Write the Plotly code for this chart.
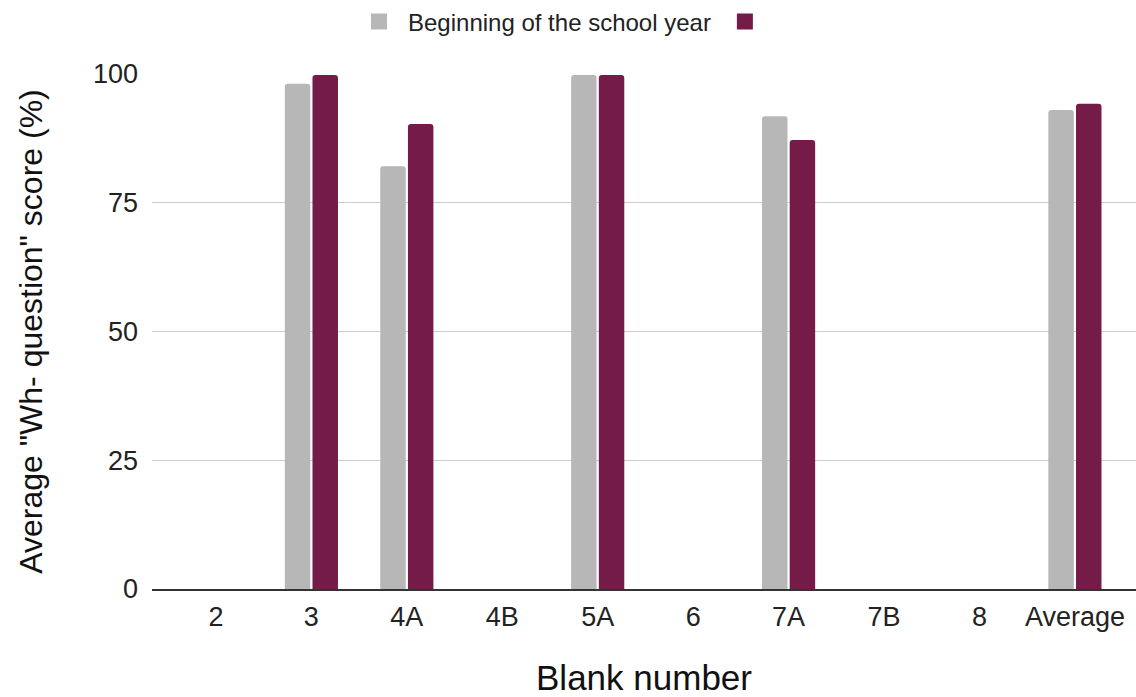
import plotly.graph_objects as go

categories = ["2", "3", "4A", "4B", "5A", "6", "7A", "7B", "8", "Average"]
beginning = [None, 98.1, 82.1, None, 99.8, None, 91.8, None, None, 93.0]
end = [None, 99.8, 90.3, None, 99.8, None, 87.2, None, None, 94.2]
y_ticks = [0, 25, 50, 75, 100]
series_names = ["Beginning of the school year", " "]
colors = ["#b7b7b7", "#741b47"]

fig = go.Figure()
for vals, name, col in zip([beginning, end], series_names, colors):
    fig.add_trace(go.Bar(x=categories, y=vals, name=name, showlegend=False,
                         marker=dict(color=col, cornerradius=3, line=dict(width=0))))
# legend proxies with larger square swatches
for name, col in zip(series_names, colors):
    fig.add_trace(go.Scatter(x=[None], y=[None], mode="markers", name=name,
                             marker=dict(symbol="square", size=20, color=col)))

fig.update_layout(
    width=1136, height=697,
    margin=dict(l=152, r=0, t=74, b=108),
    paper_bgcolor="white", plot_bgcolor="white",
    font=dict(family="Liberation Sans, Arial, sans-serif", color="#222"),
    barmode="group", bargap=0.42, bargroupgap=0.08,
    legend=dict(orientation="h", xref="container", yref="container",
                x=0.5, xanchor="center", y=1 - 22/697, yanchor="middle",
                font=dict(size=24, color="#222"), itemwidth=48),
    xaxis=dict(type="category", range=[-0.67, 9.64],
               showline=True, linecolor="#333", linewidth=1.5,
               tickfont=dict(size=27, color="#222"), ticks="", ticklen=0, ticklabelstandoff=3,
               title=dict(text="Blank number", font=dict(size=35, color="#111"), standoff=38)),
    yaxis=dict(range=[0, 100], tickvals=y_ticks, showgrid=True, gridcolor="#cccccc", gridwidth=1,
               zeroline=False, tickfont=dict(size=27, color="#222"), ticks="", ticklabelstandoff=13,
               title=dict(text='Average "Wh- question" score (%)', font=dict(size=32, color="#111"), standoff=40)),
)

fig.write_html("out.html")
